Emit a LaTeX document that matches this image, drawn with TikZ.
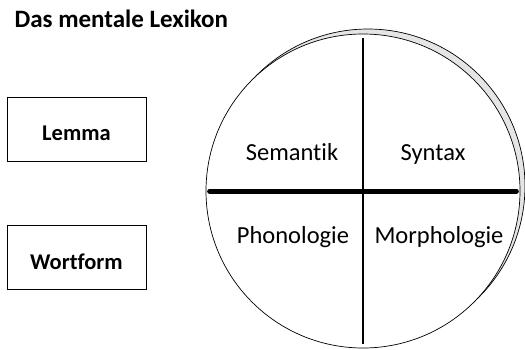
\documentclass[tikz,border=0pt]{standalone}
\usepackage{fontspec}
\setmainfont{Carlito}[Ligatures=CommonOff]
\usetikzlibrary{positioning}
\tikzset{every node/.style={align=center}, >= latex, font=\fontsize{24.5}{29}\selectfont}

\begin{document}
\begin{tikzpicture}[x=1pt, y=-1pt,
    kasten/.style={draw, rectangle, minimum width=139pt, minimum height=64pt, inner sep=0pt,
        text height=23.5pt, text depth=0pt, font=\fontsize{22.5}{27}\selectfont\bfseries},
    kreisform/.style={draw, circle, minimum size=314pt, inner sep=0pt, line width=0.7pt}]
            \useasboundingbox (0,0) rectangle (525,349);
            \node [anchor=base west, font=\fontsize{25}{30}\selectfont\bfseries] (titel) at (11,27) {Das mentale Lexikon};
            \node [kasten] (lemma) at (76.5,129) {Lemma};
            \node [kasten, below=64pt of lemma] (wortform) {Wortform};
            % Kreis mit Schatten
            \node [kreisform, fill=gray!20] (schatten) at (368,186) {};
            \node [kreisform, fill=white] (kreis) at (363,191) {};
            \draw [line width=1.2pt, shorten <=4pt, shorten >=4pt] (kreis.north) -- (kreis.south);
            \draw [line width=5pt, line cap=round, shorten <=4pt, shorten >=4pt] (kreis.west) -- (kreis.east);
            \node [anchor=base] (semantik) at (292,160) {Semantik};
            \node [anchor=base] (syntax) at (433,160) {Syntax};
            \node [anchor=base] (phonologie) at (293,243) {Phonologie};
            \node [anchor=base] (morphologie) at (439,243) {Morphologie};
        \end{tikzpicture}
\end{document}
